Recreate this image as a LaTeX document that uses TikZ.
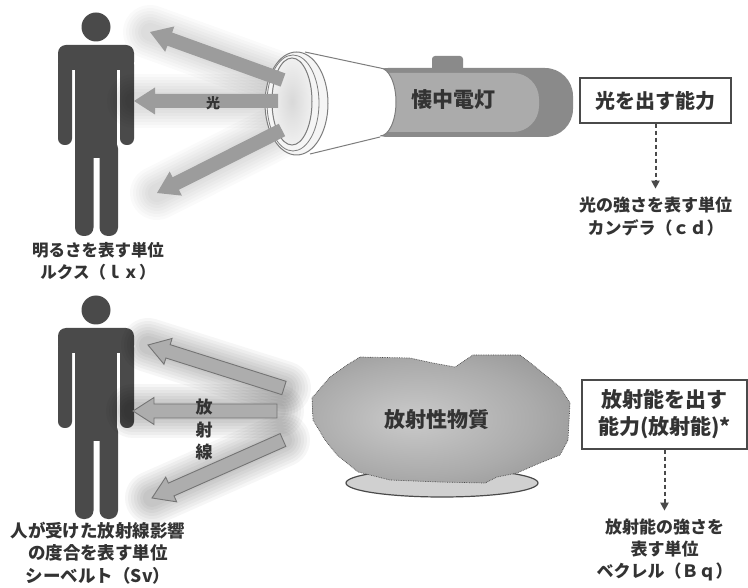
\documentclass[tikz,border=0pt]{standalone}
\usepackage{fontspec}
\setmainfont{Noto Sans CJK JP}
\usetikzlibrary{arrows.meta, positioning, calc}

\definecolor{inkgray}{HTML}{333333}
\definecolor{figgray}{HTML}{4A4A4A}
\definecolor{beamgray}{HTML}{9C9C9C}
\definecolor{raygray}{HTML}{ADADAD}
\definecolor{rayedge}{HTML}{747474}
\definecolor{tubedark}{HTML}{8A8A8A}
\definecolor{tubelight}{HTML}{ABABAB}
\definecolor{rimgray}{HTML}{7D7D7D}
\definecolor{rockdark}{HTML}{8C8C8C}
\definecolor{rockmid}{HTML}{ABABAB}
\definecolor{rocklight}{HTML}{CACACA}
\definecolor{basegray}{HTML}{D0D0D0}

\pgfdeclareradialshading{lumpshade}{\pgfpoint{-6bp}{0bp}}{%
  color(0bp)=(rocklight); color(22bp)=(rockmid); color(40bp)=(rockdark); color(60bp)=(rockdark)}

% wide arrow as a closed outline: style, from, to, half shaft, half head
\newcommand\fatarrow[5]{%
  \coordinate (hb) at ($(#3)!21pt!(#2)$);
  \path[#1] ($(#2)!#4!90:(#3)$) -- ($(hb)!#4!90:(#3)$) -- ($(hb)!#5!90:(#3)$) -- (#3)
    -- ($(hb)!#5!-90:(#3)$) -- ($(hb)!#4!-90:(#3)$) -- ($(#2)!#4!-90:(#3)$) -- cycle;
}
% soft haze under a beam
\newcommand\beamglow[3]{%
  \foreach \w in {54,48,42,36,30,24,18}{\draw[line width=\w pt, black, opacity=#3, line cap=round] (#1) -- (#2);}
}

\tikzset{
  person/.pic={
    \fill[figgray] (96,27) circle [radius=14.5];
    \fill[figgray, rounded corners=8pt] (58,45) rectangle (134,70);
    \fill[figgray, rounded corners=6.5pt] (58,58) rectangle (72,145);
    \fill[figgray, rounded corners=6.5pt] (120,58) rectangle (134,145);
    \fill[figgray] (75,50) rectangle (117,158);
    \fill[figgray, rounded corners=8.5pt] (75,140) rectangle (93.5,236);
    \fill[figgray, rounded corners=8.5pt] (99.5,140) rectangle (118,236);
    \fill[figgray] (93,140) rectangle (100,153);
  }
}

\begin{document}
\begin{tikzpicture}[x=1pt, y=-1pt,
    lbl/.style={font=\bfseries\fontsize{16.5}{22}\selectfont, text=inkgray, align=center, inner sep=0pt},
    biglbl/.style={font=\bfseries\fontsize{21}{27}\selectfont, text=inkgray, align=center, inner sep=0pt},
    capbox/.style={draw=figgray, line width=1.3pt, fill=white, inner sep=0pt},
    unitarrow/.style={draw=figgray, line width=2pt, dash pattern=on 4.5pt off 2.5pt,
      -{Triangle[length=8pt, width=8pt]}}
]
\useasboundingbox (0,0) rectangle (748,588);

% people
\pic at (0,0) {person};
\pic at (0,283) {person};

% beam ends
\coordinate (lensT) at (283,80);
\coordinate (lensM) at (278,101);
\coordinate (lensB) at (282,130);
\coordinate (manT) at (150,32);
\coordinate (manM) at (134,101);
\coordinate (manB) at (157,193);

\coordinate (srcT) at (284,388);
\coordinate (srcM) at (277,411);
\coordinate (srcB) at (283,440);
\coordinate (tgtT) at (148,345);
\coordinate (tgtM) at (133,411);
\coordinate (tgtB) at (152,498);

\foreach \s/\t in {lensT/manT, lensM/manM, lensB/manB}{\beamglow{\s}{\t}{0.018}}
\foreach \s/\t in {srcT/tgtT, srcM/tgtM, srcB/tgtB}{\beamglow{\s}{\t}{0.035}}

% flashlight
\fill[tubedark, rounded corners=28pt] (360,68) rectangle (573,137);
\fill[tubelight, rounded corners=26pt] (360,73) rectangle (539,132);
\fill[tubedark, rounded corners=3pt] (432,72) -- (432,56) -- (463,56) -- (463,72) -- cycle;
\filldraw[fill=white, draw=rimgray, line width=1pt] (380,102) ellipse [x radius=16, y radius=34];
\fill[white] (305,52) -- (380,68) -- (380,137) -- (310,154) -- cycle;
\draw[rimgray, line width=1pt] (305,52) -- (380,68) (310,154) -- (380,137);
\filldraw[fill=gray!8, draw=rimgray, line width=1pt] (296.5,103.5) ellipse [x radius=31.5, y radius=51.5];
\draw[rimgray, line width=0.8pt] (293,103) ellipse [x radius=26, y radius=48];
\filldraw[inner color=gray!30, outer color=gray!12, draw=rimgray, line width=1pt]
  (292,101.5) ellipse [x radius=20, y radius=43.5];
\node[biglbl] (torch) at (453,100) {懐中電灯};

% light beams
\foreach \s/\t in {lensT/manT, lensM/manM, lensB/manB}{\fatarrow{fill=beamgray}{\s}{\t}{7pt}{13.5pt}}
\node[lbl, font=\bfseries\fontsize{14}{18}\selectfont] (light) at (213,103) {光};

% radioactive lump
\filldraw[fill=basegray, draw=figgray, line width=1.2pt] (442,483) ellipse [x radius=96, y radius=14];
\draw[shading=lumpshade, draw=figgray, line width=0.7pt, densely dotted]
  (360,357) -- (410,358) -- (433,363) -- (455,367) -- (473,355) -- (520,355) -- (533,365)
  -- (560,387) -- (570,403) -- (568,440) -- (560,455) -- (540,463) -- (517,473) -- (497,477)
  -- (485,483) -- (440,482) -- (390,480) -- (358,472) -- (337,455) -- (325,440) -- (313,420)
  -- (312,398) -- (330,377) -- (347,365) -- cycle;
\node[biglbl] (lump) at (437,420) {放射性物質};

% radiation beams
\foreach \s/\t in {srcT/tgtT, srcM/tgtM, srcB/tgtB}{\fatarrow{fill=raygray, draw=rayedge, line width=0.9pt}{\s}{\t}{7pt}{13.5pt}}
\node[lbl, font=\bfseries\fontsize{17}{22.5}\selectfont] (rays) at (204,430) {放\\射\\線};

% unit labels
\node[lbl] (lux) at (98,261) {明るさを表す単位\\ルクス（ｌｘ）};
\node[lbl, font=\bfseries\fontsize{17.5}{22.5}\selectfont] (sv) at (98,553)
  {人が受けた放射線影響\\の度合を表す単位\\シーベルト（Sv）};

% capability boxes
\node[capbox, minimum width=151pt, minimum height=45pt, font=\bfseries\fontsize{20}{26}\selectfont, text=inkgray]
  (lightcap) at (655.5,100.5) {光を出す能力};
\node[lbl, font=\bfseries\fontsize{17}{23}\selectfont, below=73pt of lightcap] (cd)
  {光の強さを表す単位\\カンデラ（ｃｄ）};
\draw[unitarrow] (lightcap.south) -- ([yshift=8pt]lightcap.south |- cd.north);

\node[capbox, minimum width=165pt, minimum height=69pt, font=\bfseries\fontsize{21}{27}\selectfont, text=inkgray,
  align=center] (radcap) at (664.5,414.5) {放射能を出す\\能力(放射能)*};
\node[lbl, font=\bfseries\fontsize{17}{22}\selectfont, below=69pt of radcap] (bq)
  {放射能の強さを\\表す単位\\ベクレル（Ｂｑ）};
\draw[unitarrow] (radcap.south) -- ([yshift=8pt]radcap.south |- bq.north);

\end{tikzpicture}
\end{document}
